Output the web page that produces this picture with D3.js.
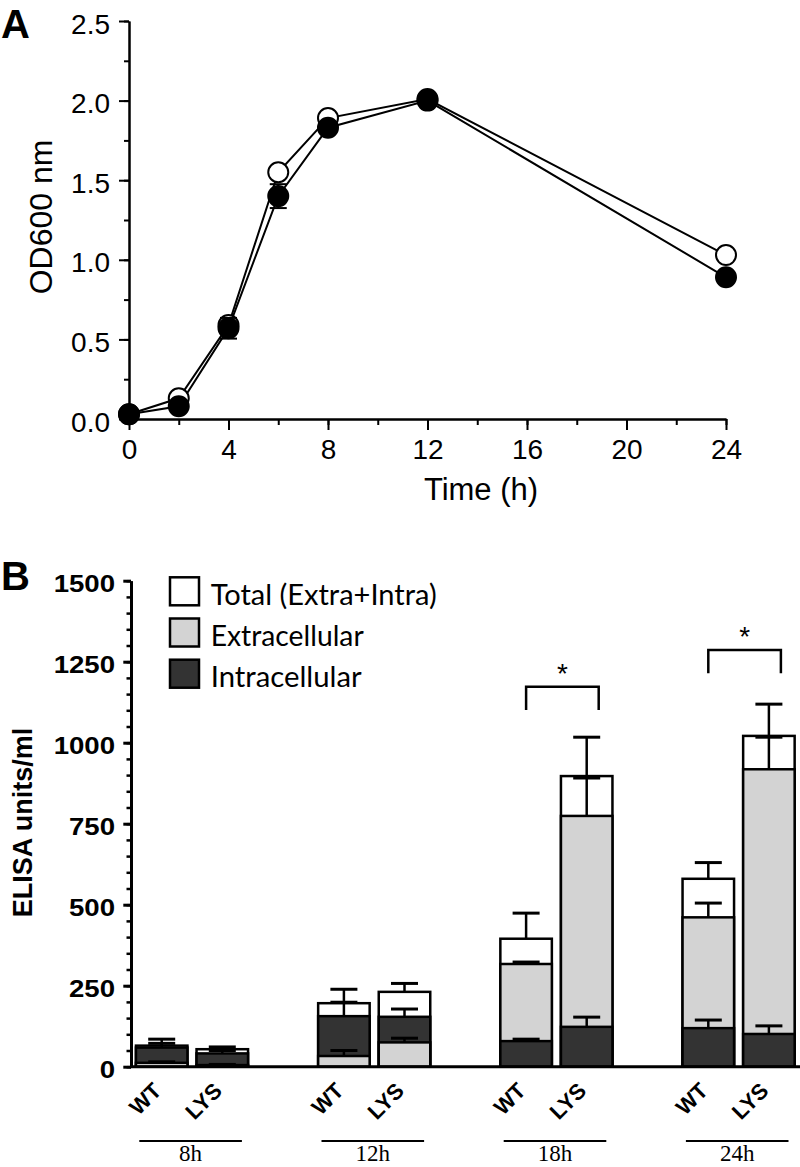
<!DOCTYPE html>
<html><head><meta charset="utf-8">
<script src="https://cdn.jsdelivr.net/npm/d3@7"></script>
<style>html,body{margin:0;padding:0;background:#fff;} svg{display:block;}</style>
</head><body>
<svg id="c" width="800" height="1167"></svg>
<script>
// ---------- Panel A data ----------
const timeHours   = [0, 2, 4, 6, 8, 12, 24];
const odOpen      = [0.03, 0.13, 0.59, 1.55, 1.89, 2.01, 1.03];
const odFilled    = [0.03, 0.08, 0.57, 1.40, 1.83, 2.00, 0.89];
const odFilledErr = [0, 0, 0.065, 0.075, 0, 0, 0];
const odYTicks    = [0, 0.5, 1.0, 1.5, 2.0, 2.5];
const odXTicks    = [0, 4, 8, 12, 16, 20, 24];

// ---------- Panel B data ----------
const timePoints  = ["8h", "12h", "18h", "24h"];
const strains     = ["WT", "LYS"];
const seriesNames = ["Total (Extra+Intra)", "Extracellular", "Intracellular"];
// order: 8h WT, 8h LYS, 12h WT, 12h LYS, 18h WT, 18h LYS, 24h WT, 24h LYS
const totalVals = [65, 54, 196, 231, 395, 897, 580, 1021];
const totalErr  = [20, 7, 43, 26, 79, 120, 50, 98];
const extraVals = [12, 5, 33, 75, 317, 774, 461, 918];
const extraErr  = [3, 2, 17, 13, 6, 117, 44, 99];
const intraVals = [59, 41, 156, 154, 79, 123, 119, 101];
const intraErr  = [13, 9, 43, 24, 6, 30, 25, 25];
const elisaTicks = [0, 250, 500, 750, 1000, 1250, 1500];
const sigTimes   = ["18h", "24h"];
const sigTop     = [1173, 1286];
const sigBottom  = [1101, 1214];
const sigLabel   = ["*", "*"];

// ---------- styles ----------
const fills = {"Total (Extra+Intra)": "#ffffff", "Extracellular": "#d3d3d3", "Intracellular": "#333333"};
const legendTextWidths = [226, 153, 151];

const svg = d3.select("#c");

// =============== PANEL A ===============
const xA = d3.scaleLinear().domain([0, 24]).range([129, 726]);
const yA = d3.scaleLinear().domain([0, 2.5]).range([419, 21]);
const A = svg.append("g");

function styleAxis(g, w) {
  g.selectAll("path.domain").attr("stroke", "#000").attr("stroke-width", w);
  g.selectAll(".tick line").attr("stroke", "#000").attr("stroke-width", w);
}
// minor ticks
A.append("g").attr("transform", "translate(129,0)")
  .call(d3.axisLeft(yA).tickValues(d3.range(0, 2.51, 0.25)).tickSize(5).tickSizeOuter(0).tickFormat(""))
  .call(g => styleAxis(g, 2));
A.append("g").attr("transform", "translate(0,419)")
  .call(d3.axisBottom(xA).tickValues(d3.range(0, 24.1, 2)).tickSize(6).tickSizeOuter(0).tickFormat(""))
  .call(g => styleAxis(g, 2));
// major ticks
const yAxA = A.append("g").attr("transform", "translate(129,0)")
  .call(d3.axisLeft(yA).tickValues(odYTicks).tickSize(10).tickPadding(9).tickSizeOuter(0).tickFormat(d3.format(".1f")))
  .call(g => styleAxis(g, 2));
yAxA.selectAll("text").attr("font-family", "'Liberation Sans', Arial, sans-serif").attr("font-size", 28).attr("fill", "#000").attr("dy", "0.43em");
const xAxA = A.append("g").attr("transform", "translate(0,419)")
  .call(d3.axisBottom(xA).tickValues(odXTicks).tickSize(11).tickPadding(9).tickSizeOuter(0))
  .call(g => styleAxis(g, 2));
xAxA.selectAll("text").attr("font-family", "'Liberation Sans', Arial, sans-serif").attr("font-size", 28).attr("fill", "#000");

A.append("text").attr("x", 481).attr("y", 500).attr("text-anchor", "middle")
  .attr("font-family", "'Liberation Sans', Arial, sans-serif").attr("font-size", 31).text("Time (h)");
A.append("text").attr("transform", "translate(52,217) rotate(-90)").attr("text-anchor", "middle")
  .attr("font-family", "'Liberation Sans', Arial, sans-serif").attr("font-size", 32).text("OD600 nm");
svg.append("text").attr("x", 1).attr("y", 38).attr("font-family", "'Liberation Sans', Arial, sans-serif")
  .attr("font-weight", "bold").attr("font-size", 40).text("A");

const ptsOpen = timeHours.map((t, i) => ({t, v: odOpen[i]}));
const ptsFilled = timeHours.map((t, i) => ({t, v: odFilled[i], e: odFilledErr[i]}));
const line = d3.line().x(d => xA(d.t)).y(d => yA(d.v));
A.append("path").datum(ptsOpen).attr("d", line).attr("fill", "none").attr("stroke", "#000").attr("stroke-width", 2);
A.append("path").datum(ptsFilled).attr("d", line).attr("fill", "none").attr("stroke", "#000").attr("stroke-width", 2);
A.selectAll("circle.open").data(ptsOpen).join("circle").attr("class", "open")
  .attr("cx", d => xA(d.t)).attr("cy", d => yA(d.v)).attr("r", 10)
  .attr("fill", "#fff").attr("stroke", "#000").attr("stroke-width", 2);
const errA = A.selectAll("g.err").data(ptsFilled.filter(d => d.e > 0)).join("g").attr("class", "err");
errA.append("line").attr("x1", d => xA(d.t)).attr("x2", d => xA(d.t))
  .attr("y1", d => yA(d.v - d.e)).attr("y2", d => yA(d.v + d.e)).attr("stroke", "#000").attr("stroke-width", 2);
errA.selectAll("line.cap").data(d => [d.v - d.e, d.v + d.e].map(v => ({t: d.t, v}))).join("line").attr("class", "cap")
  .attr("x1", d => xA(d.t) - 8.5).attr("x2", d => xA(d.t) + 8.5)
  .attr("y1", d => yA(d.v)).attr("y2", d => yA(d.v)).attr("stroke", "#000").attr("stroke-width", 2);
A.selectAll("circle.filled").data(ptsFilled).join("circle").attr("class", "filled")
  .attr("cx", d => xA(d.t)).attr("cy", d => yA(d.v)).attr("r", 10)
  .attr("fill", "#000").attr("stroke", "#000").attr("stroke-width", 2);

// =============== PANEL B ===============
const B = svg.append("g");
const yB = d3.scaleLinear().domain([0, 1500]).range([1066.7, 580.7]);
const xG = d3.scaleBand().domain(timePoints).range([99.5, 828.3]);
const xS = d3.scaleBand().domain(strains).range([36.45, 148.55]).paddingInner(0.15);

const rows = [];
timePoints.forEach((t, ti) => strains.forEach((s, si) => {
  const i = ti * 2 + si;
  rows.push({t, s, items: [
    {name: seriesNames[0], v: totalVals[i], e: totalErr[i]},
    {name: seriesNames[1], v: extraVals[i], e: extraErr[i]},
    {name: seriesNames[2], v: intraVals[i], e: intraErr[i]}
  ]});
}));
const bw = xS.bandwidth();
const cx = r => xG(r.t) + xS(r.s) + bw / 2;

const barG = B.selectAll("g.bar").data(rows).join("g").attr("class", "bar");
barG.selectAll("rect").data(r => r.items.slice().sort((a, b) => b.v - a.v).map(it => ({...it, r})))
  .join("rect")
  .attr("x", d => xG(d.r.t) + xS(d.r.s)).attr("width", bw)
  .attr("y", d => yB(d.v)).attr("height", d => yB(0) - yB(d.v))
  .attr("fill", d => fills[d.name]).attr("stroke", "#000").attr("stroke-width", 2.5);

const errs = rows.flatMap(r => r.items.map(it => ({...it, r})));
B.selectAll("line.ev").data(errs).join("line").attr("class", "ev")
  .attr("x1", d => cx(d.r)).attr("x2", d => cx(d.r))
  .attr("y1", d => yB(d.v)).attr("y2", d => yB(d.v + d.e)).attr("stroke", "#000").attr("stroke-width", 2.5);
B.selectAll("line.ec").data(errs).join("line").attr("class", "ec")
  .attr("x1", d => cx(d.r) - 13.5).attr("x2", d => cx(d.r) + 13.5)
  .attr("y1", d => yB(d.v + d.e)).attr("y2", d => yB(d.v + d.e)).attr("stroke", "#000").attr("stroke-width", 3);

// axes B
B.append("g").attr("transform", "translate(131,0)")
  .call(d3.axisLeft(yB).tickValues(d3.range(0, 1501, 50)).tickSize(4.5).tickSizeOuter(0).tickFormat(""))
  .call(g => styleAxis(g, 2.5));
const yAxB = B.append("g").attr("transform", "translate(131,0)")
  .call(d3.axisLeft(yB).tickValues(elisaTicks).tickSize(7.7).tickSizeOuter(0).tickFormat(d3.format("d")))
  .call(g => styleAxis(g, 3));
yAxB.selectAll("text").attr("x", 0).attr("dy", 11).attr("transform", "translate(-16,0) scale(1.2,1)")
  .attr("font-family", "'Liberation Sans', Arial, sans-serif").attr("font-weight", "bold")
  .attr("font-size", 23).attr("fill", "#000").attr("text-anchor", "end");
B.append("line").attr("x1", 130).attr("x2", 800).attr("y1", yB(0)).attr("y2", yB(0))
  .attr("stroke", "#000").attr("stroke-width", 3);

// strain labels
B.selectAll("text.strain").data(rows).join("text").attr("class", "strain")
  .attr("transform", r => `translate(${cx(r) + 1},1092) rotate(-45)`).attr("text-anchor", "end")
  .attr("font-family", "'Liberation Sans', Arial, sans-serif").attr("font-weight", "bold").attr("font-size", 22)
  .text(r => r.s);

// time group lines & labels
const gc = t => xG(t) + xG.bandwidth() / 2;
B.selectAll("line.grp").data(timePoints).join("line").attr("class", "grp")
  .attr("x1", t => gc(t) - 51.3).attr("x2", t => gc(t) + 51.3).attr("y1", 1141).attr("y2", 1141)
  .attr("stroke", "#000").attr("stroke-width", 2);
B.selectAll("text.grp").data(timePoints).join("text").attr("class", "grp")
  .attr("x", t => gc(t)).attr("y", 1161).attr("text-anchor", "middle")
  .attr("font-family", "'Liberation Serif', 'Times New Roman', serif").attr("font-size", 23).text(t => t);

// y label and panel letter
B.append("text").attr("transform", "translate(32,822.5) rotate(-90)").attr("text-anchor", "middle")
  .attr("font-family", "'Liberation Sans', Arial, sans-serif").attr("font-weight", "bold").attr("font-size", 27)
  .text("ELISA units/ml");
svg.append("text").attr("x", 1).attr("y", 590).attr("font-family", "'Liberation Sans', Arial, sans-serif")
  .attr("font-weight", "bold").attr("font-size", 40).text("B");

// significance brackets
const sig = sigTimes.map((t, i) => ({t, top: sigTop[i], bot: sigBottom[i], lab: sigLabel[i]}));
const bx1 = d => xG(d.t) + xS("WT") + bw / 2;
const bx2 = d => xG(d.t) + xS("LYS") + bw / 2 + 12;
B.selectAll("path.sig").data(sig).join("path").attr("class", "sig")
  .attr("d", d => `M${bx1(d)},${yB(d.bot)}V${yB(d.top)}H${bx2(d)}V${yB(d.bot)}`)
  .attr("fill", "none").attr("stroke", "#000").attr("stroke-width", 2.5);
B.selectAll("text.sig").data(sig).join("text").attr("class", "sig")
  .attr("x", d => (bx1(d) + bx2(d)) / 2).attr("y", d => yB(d.top) - 4).attr("text-anchor", "middle")
  .attr("font-family", "'Liberation Sans', Arial, sans-serif").attr("font-size", 28).text(d => d.lab);

// legend
const leg = B.selectAll("g.leg").data(seriesNames).join("g").attr("class", "leg")
  .attr("transform", (d, i) => `translate(170,${577.3 + i * 41.2})`);
leg.append("rect").attr("width", 29).attr("height", 28).attr("fill", d => fills[d])
  .attr("stroke", "#000").attr("stroke-width", 2.5);
leg.append("text").attr("x", 40.7).attr("y", 27.7)
  .attr("font-family", "Lato, 'Open Sans', sans-serif").attr("font-size", 28)
  .attr("textLength", (d, i) => legendTextWidths[i]).attr("lengthAdjust", "spacingAndGlyphs")
  .text(d => d);
</script>
</body></html>
